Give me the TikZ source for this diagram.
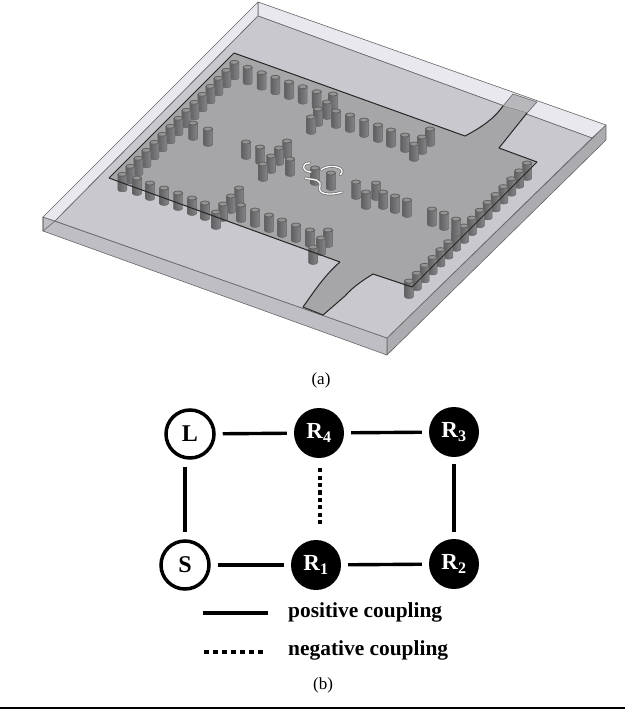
\documentclass[tikz,border=0pt]{standalone}
\usepackage{fontspec}
\setmainfont{Liberation Serif}
\usetikzlibrary{calc, positioning}
\definecolor{boardtop}{RGB}{200,200,206}
\definecolor{boardfront}{RGB}{190,190,196}
\definecolor{boardside}{RGB}{172,172,176}
\definecolor{boardglass}{RGB}{232,232,238}
\definecolor{plategray}{RGB}{166,166,168}
\definecolor{feedgray}{RGB}{184,184,188}
\definecolor{viadark}{RGB}{96,96,98}
\definecolor{vialight}{RGB}{134,134,136}
\tikzset{
  boardedge/.style = {draw = black!60, line width = 0.6pt, line join = round},
  plateedge/.style = {draw = black!85, line width = 1pt, line join = round},
  viabody/.style = {draw = black!60, line width = 0.5pt, left color = viadark, right color = vialight},
  viacap/.style = {draw = black!62, line width = 0.8pt, fill = black!42},
  slotline/.style = {draw = white, line width = 1.3pt, line cap = round},
  slotrim/.style = {draw = black!60, line width = 2.6pt, line cap = round},
  resonator/.style = {circle, fill = black, text = white, inner sep = 0pt, minimum size = 50pt,
                      font = \fontsize{23}{25}\selectfont\bfseries},
  port/.style = {circle, draw = black, fill = white, line width = 3.5pt, inner sep = 0pt, minimum size = 48pt,
                 font = \fontsize{24}{26}\selectfont\bfseries},
  coupling/.style = {line width = 3.4pt, shorten > = 7pt, shorten < = 7pt},
  negcoupling/.style = {line width = 4.4pt, dash pattern = on 4.2pt off 3.2pt},
  legenddots/.style = {line width = 4.4pt, dash pattern = on 5pt off 4pt},
  legendtext/.style = {anchor = west, inner sep = 0pt, font = \fontsize{21.4}{24}\selectfont\bfseries},
  caption/.style = {inner sep = 0pt, font = \fontsize{17}{20}\selectfont}
}
\newcommand{\via}[2]{
  \path [viabody] (#1-4.5,#2) -- (#1-4.5,#2+15.5) arc [start angle = 180, end angle = 360, x radius = 4.5pt, y radius = 2pt] -- (#1+4.5,#2) -- cycle;
  \path [viacap] (#1,#2) ellipse [x radius = 4.5pt, y radius = 2pt];
}
\begin{document}
\begin{tikzpicture}[x=1pt, y=-1pt]
  \useasboundingbox (0,0) rectangle (625,709);

  % board
  \coordinate (A) at (258,2);
  \coordinate (B) at (606,125);
  \coordinate (C) at (387,338);
  \coordinate (D) at (43,217);
  \coordinate (Ab) at (258,16);
  \coordinate (Bb) at (606,140);
  \coordinate (Cb) at (387,355);
  \coordinate (Db) at (43,231);
  \coordinate (Bi) at (592,138);
  \coordinate (Di) at (55,221);
  \path [boardedge, fill = boardside] (B) -- (Bb) -- (Cb) -- (C) -- cycle;
  \path [boardedge, fill = boardfront] (D) -- (C) -- (Cb) -- (Db) -- cycle;
  \path [boardedge, fill = boardglass] (A) -- (B) -- (Bi) -- (Ab) -- cycle;
  \path [boardedge, fill = boardglass] (A) -- (Ab) -- (Di) -- (D) -- cycle;
  \path [boardedge, fill = boardtop] (Ab) -- (Bi) -- (C) -- (Di) -- cycle;
  \path [boardedge] (D) -- (Db) -- (Di);

  % feed end lying on the glass strip
  \path [boardedge, fill = feedgray] (513,94) -- (537,102) -- (527,113) -- (503,106) -- cycle;

  % top plate
  \path [fill = plategray] (234,53) -- (465,136) .. controls (480,128) and (493,120) .. (503,106)
        -- (527,113) -- (499,148) -- (537,162) -- (412,287) -- (373,274)
        .. controls (360,282) and (352,288) .. (345,296) -- (323,315) -- (303,307)
        .. controls (315,290) and (325,275) .. (340,262) -- (109,178) -- cycle;
  \draw [plateedge] (109,178) -- (234,53) -- (465,136) .. controls (480,128) and (493,120) .. (503,106);
  \draw [plateedge] (527,113) -- (499,148) -- (537,162);
  \draw [plateedge] (303,307) .. controls (315,290) and (325,275) .. (340,262);
  \draw [plateedge] (373,274) .. controls (360,282) and (352,288) .. (345,296) -- (323,315);

  % vias
  \foreach \i in {0,...,14} { \via{234.3-8*\i}{62.3+8*\i} }
  \foreach \x/\y in {247.7/67.3, 261.7/72.7, 275.3/77.3, 289/82, 302.7/86.7, 316.7/91.7, 333/94, 327/102, 336/111,
                     318/109, 350/115, 311/117, 364/120, 378/125, 193/123, 208/129, 430/129, 391/130, 405/135, 422/137,
                     246/142, 414/144, 287/141, 260/147, 279/148, 271/156, 290/159, 263/164, 315/168, 331/173,
                     356/182, 376/183, 366/192, 383/192, 395/196, 407/200} { \via{\x}{\y} }
  \foreach \i in {0,...,15} { \via{527-7.87*\i}{163+7.87*\i} }
  \foreach \x/\y in {432/209, 444/213, 456/219, 137/178, 150/183, 164/188, 178/193, 239/188, 192/198, 231/196,
                     205/203, 223/204, 241/205, 255/210, 216/212, 269/215, 282/220, 296/225, 310/230, 328/230,
                     321/238, 313/247} { \via{\x}{\y} }

  % slots around the feed vias
  \foreach \s in {slotrim, slotline} {
    \draw [\s] (310,163) .. controls (304,162) and (302,168) .. (305,170) .. controls (307,172) and (309,172) .. (311,172);
    \draw [\s] (321,170) .. controls (325,166) and (336,165) .. (341,169) .. controls (343,172) and (342,174) .. (340,175);
    \draw [\s] (305,178) .. controls (310,180) and (317,178) .. (320,183) .. controls (321,187) and (317,190) .. (323,193) .. controls (329,195) and (336,194) .. (342,192);
  }

  % plate edges in front of the vias
  \draw [plateedge] (340,262) -- (109,178);
  \draw [plateedge] (373,274) -- (412,287) -- (537,162);
  \draw [plateedge] (303,307) -- (323,315);

  % captions and bottom rule
  \node [caption] (capa) at (321,380) {(a)};
  \node [caption] (capb) at (323,685) {(b)};
  \fill (0,706.5) rectangle (625,709);

  % coupling scheme
  \node [port] (L) at (190,434) {L};
  \node [resonator] (R4) at (319,433) {R\textsubscript{4}};
  \node [resonator] (R3) at (454,432) {R\textsubscript{3}};
  \node [port] (S) at (185,565) {S};
  \node [resonator] (R1) at (316,565) {R\textsubscript{1}};
  \node [resonator] (R2) at (454,564) {R\textsubscript{2}};

  \draw [coupling] (L) -- (R4);
  \draw [coupling] (R4) -- (R3);
  \draw [coupling] (S |- L.south) -- (S);
  \draw [coupling] (S) -- (R1);
  \draw [coupling] (R1) -- (R2);
  \draw [coupling] (R3) -- (R2);
  \draw [negcoupling] ($(R4.south)+(1,10)$) -- ($(R1.north)+(4,-13)$);

  % legend
  \node [legendtext] (postext) at (288,612) {positive coupling};
  \node [legendtext] (negtext) at (288,650) {negative coupling};
  \coordinate (pos1) at (203,613);
  \coordinate (pos2) at (268,613);
  \coordinate (neg1) at (204,652);
  \coordinate (neg2) at (266,652);
  \draw [line width = 3.4pt] (pos1) -- (pos2);
  \draw [legenddots] (neg1) -- (neg2);
\end{tikzpicture}
\end{document}
